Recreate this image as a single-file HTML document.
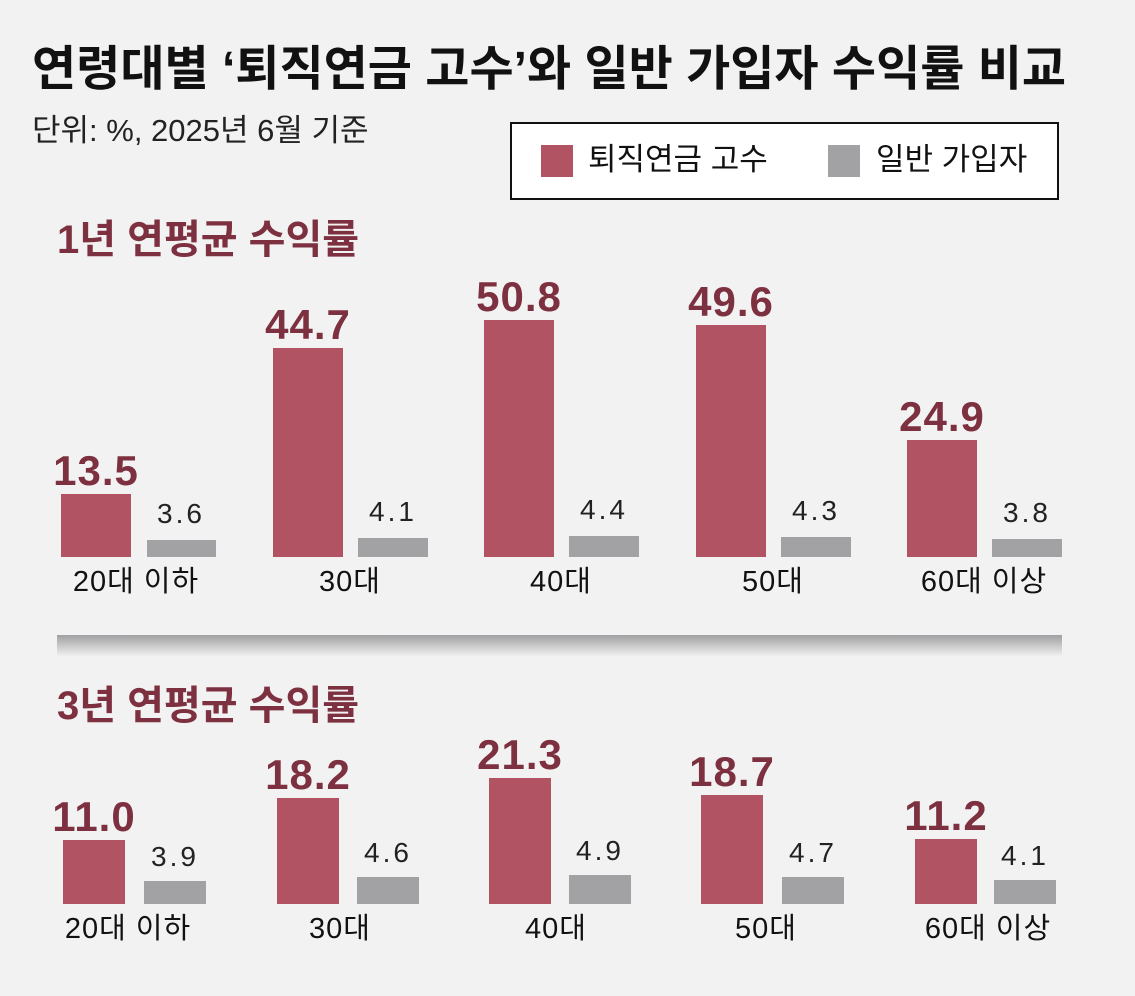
<!DOCTYPE html>
<html><head><meta charset="utf-8"><style>
body{margin:0;width:1135px;height:996px;background:#f2f2f2;position:relative;overflow:hidden;font-family:"Liberation Sans","Noto Sans CJK KR",sans-serif}
div{position:absolute;white-space:nowrap}
.r{background:#b25363}.g{background:#a2a2a4}
.v{font-weight:bold;color:#7d3040;font-size:42px;text-align:center;width:160px;line-height:1;letter-spacing:1px}
.w{color:#222;font-size:28px;text-align:center;width:120px;line-height:1;letter-spacing:3px}
.c{color:#111;font-size:29px;text-align:center;width:220px;line-height:1;letter-spacing:1px}
.s{color:#7d3040;font-weight:bold;font-size:40px;line-height:1}
</style></head><body>
<div style="left:32px;top:46px;font-size:48px;font-weight:bold;color:#111;line-height:1">연령대별 ‘퇴직연금 고수’와 일반 가입자 수익률 비교</div>
<div style="left:32px;top:115px;font-size:31px;color:#222;line-height:1">단위: %, 2025년 6월 기준</div>
<div style="left:510px;top:122px;width:545px;height:74px;border:2px solid #111;background:#fff"></div>
<div class="r" style="left:541px;top:145px;width:32px;height:32px"></div>
<div style="left:588px;top:144px;font-size:31px;line-height:1;color:#111">퇴직연금 고수</div>
<div class="g" style="left:828px;top:145px;width:32px;height:32px"></div>
<div style="left:876px;top:144px;font-size:31px;line-height:1;color:#111">일반 가입자</div>
<div class="s" style="left:57px;top:220px">1년 연평균 수익률</div>
<div class="s" style="left:57px;top:686px">3년 연평균 수익률</div>
<div style="left:57px;top:635px;width:1005px;height:21px;background:linear-gradient(#a0a0a2,#f0f0f0)"></div>

<div class="r" style="left:61px;top:494px;width:70px;height:63px"></div><div class="v" style="left:16px;top:450px">13.5</div>
<div class="g" style="left:147px;top:540px;width:69px;height:17px"></div><div class="w" style="left:121px;top:500px">3.6</div>
<div class="c" style="left:26px;top:568px">20대 이하</div>
<div class="r" style="left:273px;top:348px;width:70px;height:209px"></div><div class="v" style="left:228px;top:304px">44.7</div>
<div class="g" style="left:358px;top:538px;width:70px;height:19px"></div><div class="w" style="left:333px;top:498px">4.1</div>
<div class="c" style="left:240px;top:568px">30대</div>
<div class="r" style="left:484px;top:320px;width:70px;height:237px"></div><div class="v" style="left:439px;top:276px">50.8</div>
<div class="g" style="left:569px;top:536px;width:70px;height:21px"></div><div class="w" style="left:544px;top:496px">4.4</div>
<div class="c" style="left:451px;top:568px">40대</div>
<div class="r" style="left:696px;top:325px;width:70px;height:232px"></div><div class="v" style="left:651px;top:281px">49.6</div>
<div class="g" style="left:781px;top:537px;width:70px;height:20px"></div><div class="w" style="left:756px;top:497px">4.3</div>
<div class="c" style="left:663px;top:568px">50대</div>
<div class="r" style="left:907px;top:440px;width:70px;height:117px"></div><div class="v" style="left:862px;top:396px">24.9</div>
<div class="g" style="left:992px;top:539px;width:70px;height:18px"></div><div class="w" style="left:967px;top:499px">3.8</div>
<div class="c" style="left:874px;top:568px">60대 이상</div>

<div class="r" style="left:63px;top:840px;width:62px;height:64px"></div><div class="v" style="left:14px;top:796px">11.0</div>
<div class="g" style="left:144px;top:881px;width:62px;height:23px"></div><div class="w" style="left:115px;top:843px">3.9</div>
<div class="c" style="left:18px;top:915px">20대 이하</div>
<div class="r" style="left:277px;top:798px;width:62px;height:106px"></div><div class="v" style="left:228px;top:754px">18.2</div>
<div class="g" style="left:357px;top:877px;width:62px;height:27px"></div><div class="w" style="left:328px;top:839px">4.6</div>
<div class="c" style="left:230px;top:915px">30대</div>
<div class="r" style="left:489px;top:778px;width:62px;height:126px"></div><div class="v" style="left:440px;top:734px">21.3</div>
<div class="g" style="left:569px;top:875px;width:62px;height:29px"></div><div class="w" style="left:540px;top:837px">4.9</div>
<div class="c" style="left:446px;top:915px">40대</div>
<div class="r" style="left:701px;top:795px;width:62px;height:109px"></div><div class="v" style="left:652px;top:751px">18.7</div>
<div class="g" style="left:782px;top:877px;width:62px;height:27px"></div><div class="w" style="left:753px;top:839px">4.7</div>
<div class="c" style="left:656px;top:915px">50대</div>
<div class="r" style="left:915px;top:839px;width:62px;height:65px"></div><div class="v" style="left:866px;top:795px">11.2</div>
<div class="g" style="left:994px;top:880px;width:62px;height:24px"></div><div class="w" style="left:965px;top:842px">4.1</div>
<div class="c" style="left:878px;top:915px">60대 이상</div>
</body></html>
